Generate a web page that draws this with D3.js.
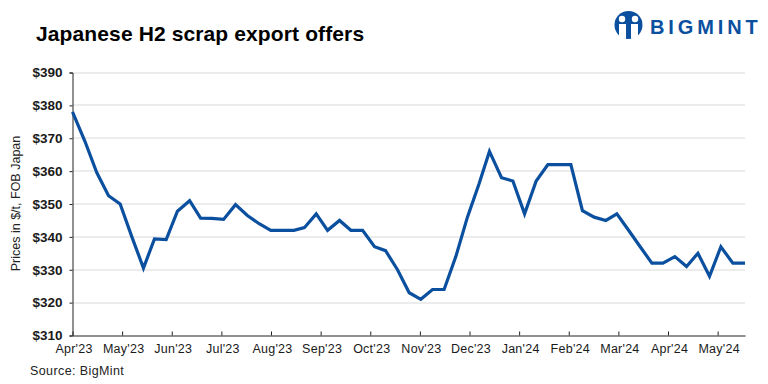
<!DOCTYPE html>
<html><head><meta charset="utf-8">
<script src="https://cdn.jsdelivr.net/npm/d3@7/dist/d3.min.js"></script>
<style>html,body{margin:0;padding:0;background:#fff}svg{display:block}text{font-family:"Liberation Sans",Arial,sans-serif}</style>
</head><body><svg id="c" width="768" height="384"></svg>
<script>
const prices=[378,369,359.5,352.5,350,340,330.5,339.4,339.2,347.8,351,345.7,345.6,345.3,349.8,346.5,344,342,342,342,342.8,347,342,345,342,342,337,335.8,330,323,321,324,324,334,346,356,366,358,357,347,357,362,362,362,348,346,345,347,342,337,332,332,334,331,335,328,337,332,332];
const weekPos=[0,1.08,2.1,3.11,4.11,5.12,6.12,7.07,8.08,9.05,10.1,11.05,12.03,13.03,14.06,15.08,16.1,17.1,18.1,19.1,20,21.02,22,23.03,24.01,25.02,26.05,27,28.03,29.04,30.04,31.05,32.05,33.06,34.06,35.05,35.96,37,37.98,38.99,39.99,41,42,42.98,43.98,44.99,46,46.95,47.96,48.96,49.97,50.92,51.95,52.96,53.94,54.94,55.92,56.95,58];
const monthLabels=["Apr'23","May'23","Jun'23","Jul'23","Aug'23","Sep'23","Oct'23","Nov'23","Dec'23","Jan'24","Feb'24","Mar'24","Apr'24","May'24"];
const yTicks=[310,320,330,340,350,360,370,380,390];
const weeksPerMonth=4.28;
const title="Japanese H2 scrap export offers",yTitle="Prices in $/t, FOB Japan",source="Source: BigMint",brand="BIGMINT";
const W=768,H=384,L=72.5,R=745,T=72.5,B=335.5,blue="#0B4F9F";
const svg=d3.select("#c");
const x=d3.scaleLinear().domain([0,58]).range([L,R]);
const y=d3.scaleLinear().domain([310,390]).range([B,T]);

svg.append("text").attr("x",36).attr("y",41).attr("font-size",21).attr("font-weight",700).attr("letter-spacing",.12).attr("fill","#000").text(title);

svg.append("g").selectAll("line").data(yTicks.slice(1)).join("line")
 .attr("x1",L).attr("x2",R).attr("y1",d=>Math.round(y(d))).attr("y2",d=>Math.round(y(d)))
 .attr("stroke","#d9d9d9").attr("stroke-width",1);

const fmt=d=>"$"+d;
const gy=svg.append("g").attr("transform",`translate(${L},0)`).call(d3.axisLeft(y).tickValues(yTicks).tickFormat(fmt).tickSize(3).tickPadding(7));
gy.selectAll("text").attr("font-size",13.5).attr("font-weight",700).attr("fill","#1a1a1a");
gy.selectAll("line,path").attr("stroke","#222");

const tickPos=monthLabels.map((_,i)=>i*weeksPerMonth);
const gx=svg.append("g").attr("transform",`translate(0,${B})`).call(d3.axisBottom(x).tickValues(tickPos).tickFormat((d,i)=>monthLabels[i]).tickSize(-4).tickSizeOuter(0).tickPadding(9));
gx.selectAll("text").attr("font-size",12.5).attr("letter-spacing",.25).attr("fill","#1a1a1a").attr("dy","0.71em").attr("dx",1);
gx.selectAll("line,path").attr("stroke","#222");

svg.append("text").attr("transform",`translate(20,${203.5}) rotate(-90)`).attr("text-anchor","middle").attr("font-size",12.5).attr("fill","#222").text(yTitle);
svg.append("text").attr("x",30).attr("y",375).attr("font-size",12.5).attr("letter-spacing",.4).attr("fill","#222").text(source);

svg.append("path").datum(prices).attr("fill","none").attr("stroke",blue).attr("stroke-width",3.2).attr("stroke-linejoin","miter")
 .attr("d",d3.line().x((d,i)=>x(weekPos[i])).y(d=>y(d)));

// logo
const logo=svg.append("g");
logo.append("circle").attr("cx",628.5).attr("cy",25).attr("r",14).attr("fill",blue);
[[622,19],[635,19]].forEach(c=>{
 logo.append("circle").attr("cx",c[0]).attr("cy",c[1]).attr("r",3.2).attr("fill","#fff");
});
logo.append("path").attr("d","M619 24 L626 24 L626 39 L619 38Z M631 24 L638 24 L638 38 L631 39Z").attr("fill","#fff");
logo.append("text").attr("x",650).attr("y",33.5).attr("font-size",20).attr("font-weight",700).attr("letter-spacing",3.9).attr("fill",blue).text(brand);
</script></body></html>
